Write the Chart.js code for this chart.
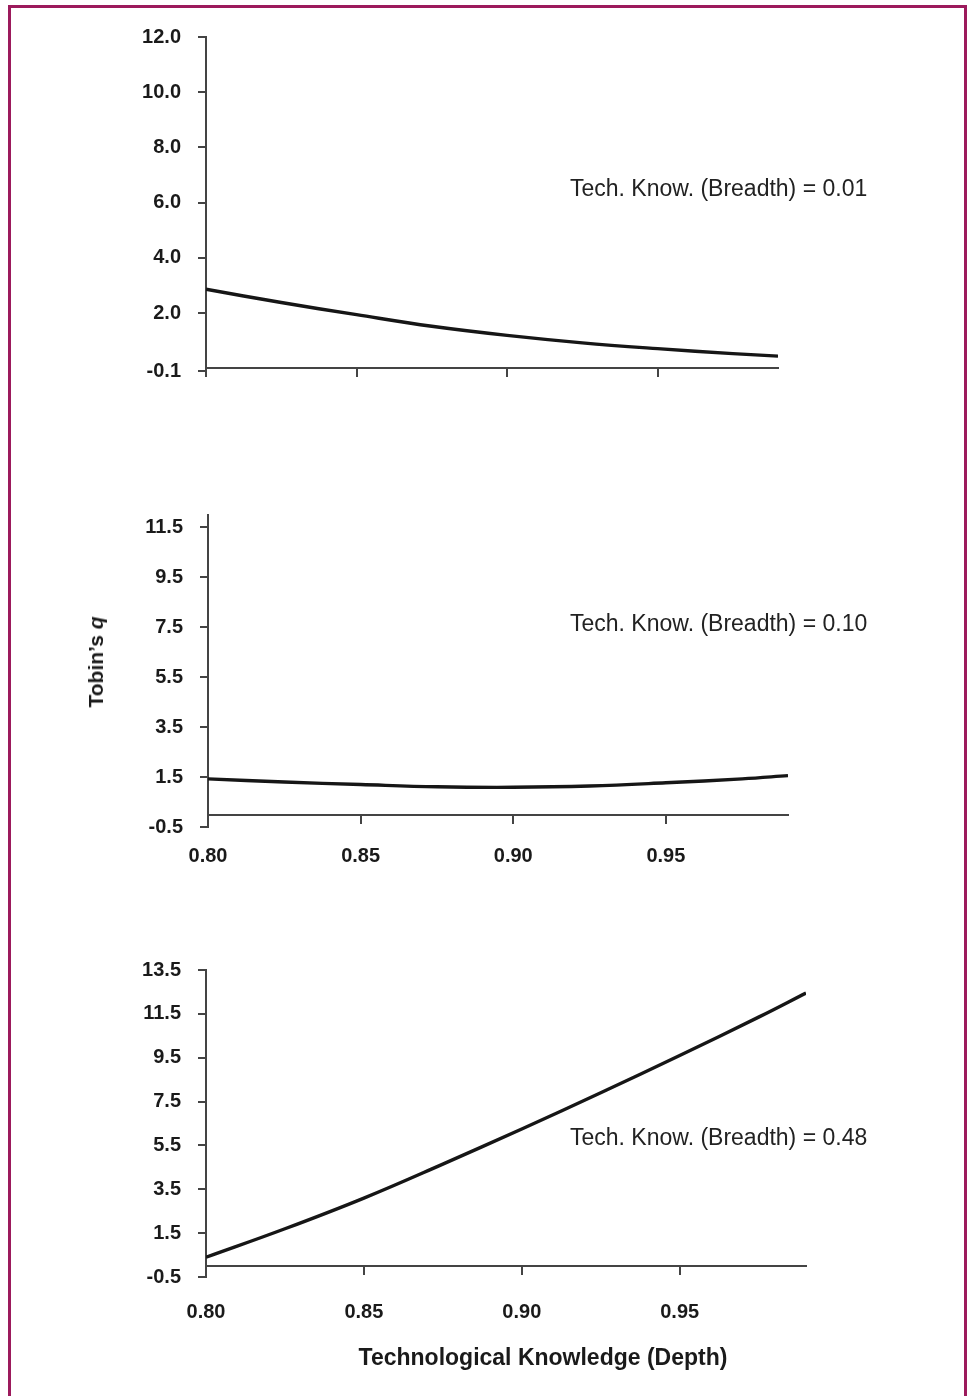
<!DOCTYPE html>
<html>
<head>
<meta charset="utf-8">
<script src="https://cdn.jsdelivr.net/npm/chart.js@4"></script>
<style>
  html, body { margin: 0; padding: 0; background: #fff; }
  #page { position: relative; width: 968px; height: 1396px; overflow: hidden; font-family: 'Liberation Sans', Arial, sans-serif; color: #1a1a1a; }
  #frame { position: absolute; left: 8px; top: 5px; width: 959px; height: 1420px; box-sizing: border-box; border: 3px solid #9c1a5c; border-bottom: none; }
  canvas { position: absolute; left: 0; }
  .note { position: absolute; left: 570px; font-size: 23px; line-height: 23px; white-space: nowrap; color: #222; }
  #ytitle { position: absolute; left: 96px; top: 662px; transform: translate(-50%, -50%) rotate(-90deg); font-weight: bold; font-size: 21px; white-space: nowrap; }
  #xtitle { position: absolute; left: 543px; top: 1357px; transform: translate(-50%, -50%); font-weight: bold; font-size: 23px; white-space: nowrap; }
</style>
</head>
<body>
<div id="page">
  <div id="frame"></div>
  <canvas id="chartTop" width="968" height="420" style="top:0px"></canvas>
  <canvas id="chartMid" width="968" height="440" style="top:450px"></canvas>
  <canvas id="chartBot" width="968" height="420" style="top:930px"></canvas>
  <div class="note" style="top:177px">Tech. Know. (Breadth) = 0.01</div>
  <div class="note" style="top:612px">Tech. Know. (Breadth) = 0.10</div>
  <div class="note" style="top:1126px">Tech. Know. (Breadth) = 0.48</div>
  <div id="ytitle">Tobin’s <i>q</i></div>
  <div id="xtitle">Technological Knowledge (Depth)</div>
</div>
<script>
// technological knowledge depth (x) and Tobin's q for each breadth level
var depth = [0.80, 0.825, 0.85, 0.875, 0.90, 0.925, 0.95, 0.975, 0.99];
var qBreadth001 = [2.86, 2.38, 1.94, 1.52, 1.19, 0.92, 0.71, 0.53, 0.44];
var qBreadth010 = [1.43, 1.30, 1.20, 1.11, 1.09, 1.14, 1.27, 1.43, 1.56];
var qBreadth048 = [0.40, 1.70, 3.10, 4.65, 6.25, 7.90, 9.60, 11.35, 12.45];

var xTicks = [0.80, 0.85, 0.90, 0.95];
var xTickLabels = ['0.80', '0.85', '0.90', '0.95'];

var yTicksTop = [-0.1, 2, 4, 6, 8, 10, 12];
var yLabelsTop = ['-0.1', '2.0', '4.0', '6.0', '8.0', '10.0', '12.0'];
var yTicksMid = [-0.5, 1.5, 3.5, 5.5, 7.5, 9.5, 11.5];
var yLabelsMid = ['-0.5', '1.5', '3.5', '5.5', '7.5', '9.5', '11.5'];
var yTicksBot = [-0.5, 1.5, 3.5, 5.5, 7.5, 9.5, 11.5, 13.5];
var yLabelsBot = ['-0.5', '1.5', '3.5', '5.5', '7.5', '9.5', '11.5', '13.5'];

var axisColor = '#444';
var tickFont = { family: 'Liberation Sans', size: 20, weight: 'bold' };

function makeChart(id, values, yMin, yMax, yTicks, yLabels, showX, pad, xMax, labelPad)
{
    var ctx = document.getElementById(id).getContext('2d');
    return new Chart(ctx, {
        type: 'line',
        data: {
            datasets: [{
                data: depth.map(function(d, i) { return { x: d, y: values[i] }; }),
                borderColor: '#161616',
                borderWidth: 3.4,
                pointRadius: 0,
                tension: 0.4,
                fill: false
            }]
        },
        options: {
            responsive: false,
            animation: false,
            devicePixelRatio: 1,
            layout: { padding: pad },
            plugins: {
                legend: { display: false },
                tooltip: { enabled: false }
            },
            scales: {
                x: {
                    type: 'linear',
                    position: { y: 0 },
                    min: 0.80,
                    max: xMax,
                    afterBuildTicks: function(axis) {
                        axis.ticks = xTicks.map(function(v) { return { value: v }; });
                    },
                    border: { display: true, color: axisColor, width: 2 },
                    grid: { drawOnChartArea: false, drawTicks: true, tickLength: 8, color: axisColor, lineWidth: 2 },
                    ticks: {
                        display: showX,
                        color: '#1a1a1a',
                        font: tickFont,
                        padding: labelPad,
                        maxRotation: 0,
                        callback: function(v, i) { return xTickLabels[i]; }
                    }
                },
                y: {
                    type: 'linear',
                    min: yMin,
                    max: yMax,
                    afterBuildTicks: function(axis) {
                        axis.ticks = yTicks.map(function(v) { return { value: v }; });
                    },
                    afterFit: function(axis) { axis.width = 100; },
                    border: { display: true, color: axisColor, width: 2 },
                    grid: { drawOnChartArea: false, drawTicks: true, tickLength: 8, color: axisColor, lineWidth: 2 },
                    ticks: {
                        color: '#1a1a1a',
                        font: tickFont,
                        padding: 17,
                        callback: function(v, i) { return yLabels[i]; }
                    }
                }
            }
        }
    });
}

makeChart('chartTop', qBreadth001, -0.1, 12, yTicksTop, yLabelsTop, false,
    { left: 106, right: 190, top: 37, bottom: 49 }, 0.99, 20);
makeChart('chartMid', qBreadth010, -0.5, 12, yTicksMid, yLabelsMid, true,
    { left: 108, right: 180, top: 65, bottom: 63 }, 0.99, 22);
makeChart('chartBot', qBreadth048, -0.5, 13.5, yTicksBot, yLabelsBot, true,
    { left: 106, right: 162, top: 40, bottom: 73 }, 0.99, 26);
</script>
</body>
</html>
